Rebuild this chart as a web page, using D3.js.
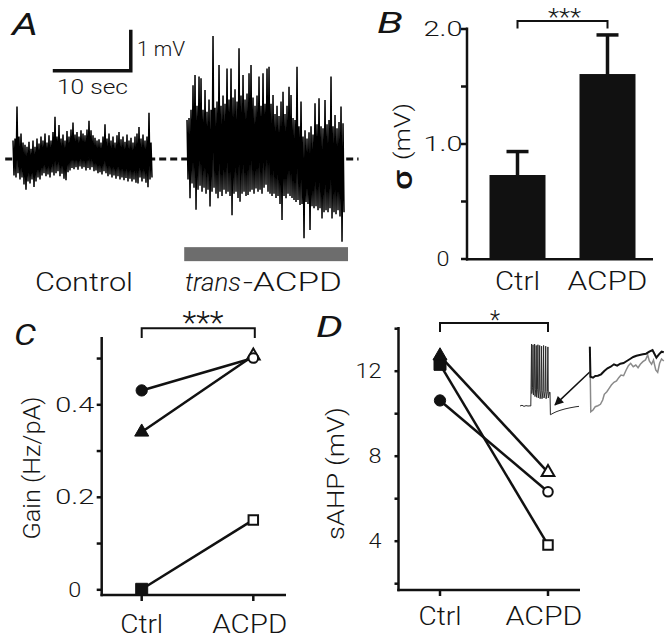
<!DOCTYPE html>
<html><head><meta charset="utf-8">
<script src="https://cdn.jsdelivr.net/npm/d3@7"></script>
<style>
body{margin:0;background:#fff}
text{font-family:Roboto,"Liberation Sans",Arial,sans-serif;font-weight:300;fill:#141414}
</style>
</head><body>
<svg id="chart" width="672" height="640"></svg>
<script>
// ================= DATA =================
const groups = ["Ctrl", "ACPD"];

// Panel A: membrane potential traces, per-sample max / min (mV re. baseline), 0.256 s per sample
const ctrlHi = [.45,.50,1.28,.55,.62,.40,.35,.30,.42,.25,
  .45,.30,.50,.38,.55,.45,.62,.40,.58,.45,
  .66,1.03,.55,.83,.50,.60,.45,.68,.55,.72,
  .89,.60,.66,.55,.70,.62,.58,.72,.93,.70,
  .58,.52,.45,.48,.40,.55,.85,.50,.62,.45,
  .55,.40,.58,.66,.48,.55,.42,.60,.45,.52,
  .40,.55,.62,.78,.50,.60,.45,.55,1.13,.40];
const ctrlLo = [-.40,-.45,-.35,-.50,-.45,-.62,-.75,-.55,-.60,-.50,
  -.68,-.55,-.45,-.50,-.40,-.35,-.42,-.38,-.45,-.33,
  -.40,-.35,-.30,-.42,-.36,-.48,-.52,-.32,-.28,-.22,
  -.25,-.20,-.26,-.18,-.24,-.20,-.28,-.22,-.26,-.20,
  -.30,-.28,-.35,-.32,-.38,-.30,-.35,-.42,-.38,-.45,
  -.40,-.48,-.42,-.50,-.45,-.52,-.46,-.55,-.48,-.55,
  -.50,-.58,-.60,-.45,-.55,-.48,-.58,-.69,-.50,-.45];
const acpdHi = [0.95,1.0,1.2,1.80,2.05,1.3,2.01,1.97,1.2,1.68,
  1.15,1.45,1.2,3.0,1.25,1.4,2.29,1.3,1.55,1.35,
  2.21,1.45,2.21,1.5,1.7,1.4,2.70,1.55,2.05,1.45,
  1.6,2.09,2.29,1.5,1.3,1.55,2.01,1.3,2.09,1.35,
  2.21,2.25,1.35,1.56,1.1,1.3,1.05,1.4,1.64,1.1,
  1.3,1.76,1.56,1.0,0.95,2.25,0.8,1.40,0.55,0.7,
  0.5,0.65,0.8,0.6,1.36,0.85,1.48,0.8,0.75,1.44,
  0.85,0.95,2.01,0.8,1.07,0.75,0.9,1.28,0.87];
const acpdLo = [-0.50,-0.96,-0.6,-0.7,-1.24,-0.75,-0.65,-0.8,-0.7,-0.85,
  -0.75,-1.16,-0.8,-0.7,-0.85,-0.96,-0.8,-0.9,-0.75,-0.85,
  -0.8,-0.9,-1.37,-0.85,-0.8,-0.95,-1.04,-0.85,-0.8,-0.9,
  -0.88,-0.8,-0.75,-0.85,-0.72,-0.8,-0.75,-0.85,-0.7,-0.63,
  -0.8,-0.85,-0.9,-0.85,-0.95,-0.9,-1.1,-1.49,-0.9,-0.96,
  -0.85,-0.9,-0.95,-1.0,-1.05,-1.0,-1.12,-1.1,-1.93,-1.05,
  -1.1,-1.73,-1.15,-1.2,-1.15,-1.25,-1.2,-1.45,-1.3,-1.25,
  -1.3,-1.2,-1.45,-1.3,-1.35,-1.25,-1.4,-2.02,-1.3];

// Panel B: sigma (mV)
const sigmaMean = [0.726, 1.604];
const sigmaSem  = [0.204, 0.34];
const bTickVals = [0, 0.5, 1, 1.5, 2];
const bTickLabels = ["0", "", "1.0", "", "2.0"];

// Panel C: gain (Hz/pA)
const gainSquare   = [0.0, 0.15];
const gainTriangle = [0.34, 0.505];
const gainCircle   = [0.43, 0.50];
const cTickVals = [0, 0.1, 0.2, 0.3, 0.4, 0.5];
const cTickLabels = ["0", "", "0.2", "", "0.4", ""];

// Panel D: sAHP (mV)
const sahpSquare   = [12.3, 3.8];
const sahpTriangle = [12.7, 7.22];
const sahpCircle   = [10.6, 6.3];
const dTickVals = [2, 4, 6, 8, 10, 12, 14];
const dTickLabels = ["", "4", "", "8", "", "12", ""];

// Panel D inset: spike train (ms, mV)
const spikeT = [0,20,40,60,80,100,108,
  110,115,118,125,130,134,140,146,150,157,162,166,174,179,183,192,197,201,211,216,220,231,236,240,252,257,261,274,279,283,296,
  300,304,330,360,400,450,500,560,590];
const spikeV = [-65,-64,-65.5,-64.5,-65,-64.8,-65,
  -42,20,-48,-40,19,-50,-41,20,-52,-42,18,-53,-42,19,-54,-43,18,-55,-44,17,-55,-44,18,-54,-45,17,-55,-45,16,-54,-46,
  -46,-77,-75,-73,-71,-69,-67.5,-66,-65.5];
// expanded AHP (ms, mV): control (black) and ACPD (gray)
const blackT = [15,17,25,32,40,50,60,70,80,90,100,110,120,130,140,150,160,170,180,190,200,210,215,222,230,238,245];
const blackV = [-6.7,-36.7,-37.7,-36,-35.7,-34.3,-31,-28.3,-26.7,-24.3,-25.7,-23.7,-23,-21,-19,-17,-15.7,-15,-14.3,-13.7,-11.7,-10,-13.3,-17.7,-14.3,-11.7,-12.3];
const grayT = [15,18,25,32,40,48,55,60,68,75,82,90,98,105,112,120,128,135,142,150,158,165,172,180,188,195,200,207,213,220,226,232,238,245];
const grayV = [-6.7,-71.7,-70,-66.7,-65.7,-64.3,-60,-54.3,-51.7,-48.3,-45,-42.3,-41,-37.7,-35,-35.7,-30,-25.7,-23.3,-26.7,-25,-27.7,-24.3,-21.7,-20,-15,-21,-24.3,-20,-30,-32.3,-23.3,-19,-21];
const arrowT = [700, 350];
const arrowV = [-18, -63.5];

// ================= DRAWING =================
const svg = d3.select("#chart");
const INK = "#111";

function txt(x, y, s, size, len, opt = {}) {
  const t = svg.append("text").attr("x", x).attr("y", y).attr("font-size", size).text(s);
  if (opt.anchor) t.attr("text-anchor", opt.anchor);
  if (opt.italic) t.attr("font-style", "italic");
  if (opt.weight) t.style("font-weight", opt.weight);
  if (len) t.attr("textLength", len).attr("lengthAdjust", "spacingAndGlyphs");
  return t;
}
function vtxt(cx, cy, s, size, len) {
  return svg.append("text").attr("transform", `translate(${cx},${cy}) rotate(-90)`)
    .attr("text-anchor", "middle").attr("dy", "0.35em").attr("font-size", size)
    .attr("textLength", len).attr("lengthAdjust", "spacingAndGlyphs").text(s);
}
function styleAxis(g, labels, labelX, anchor, tickW) {
  g.select(".domain").remove();
  g.selectAll(".tick line").attr("stroke", INK).attr("stroke-width", tickW);
  g.selectAll(".tick text").attr("x", labelX).attr("text-anchor", anchor)
    .attr("font-size", 21).attr("font-family", null)
    .each(function (d, i) {
      const l = labels[i];
      if (l) d3.select(this).attr("textLength", 13 * l.length).attr("lengthAdjust", "spacingAndGlyphs");
    });
  g.attr("font-family", null).attr("font-size", null);
}

// ---------- Panel A ----------
const xA = d3.scaleLinear().domain([0, 10]).range([13, 91]);
const yA = d3.scaleLinear().domain([0, 1]).range([159, 118]);
const dtA = 0.2564;
const ctrlStart = 0, acpdStart = 22.31;
function tracePts(hi, lo, t0) {
  const p = [];
  hi.forEach((h, i) => { p.push([t0 + i * dtA, h]); p.push([t0 + i * dtA + dtA / 2, lo[i]]); });
  return p;
}
const lineA = d3.line().x(d => xA(d[0])).y(d => yA(d[1]));

svg.append("line").attr("x1", xA(-1)).attr("x2", xA(44.3)).attr("y1", yA(0)).attr("y2", yA(0))
  .attr("stroke", INK).attr("stroke-width", 3).attr("stroke-dasharray", "7,4");
svg.append("path").attr("d", lineA(tracePts(ctrlHi, ctrlLo, ctrlStart)))
  .attr("fill", "none").attr("stroke", "#000").attr("stroke-width", 1.5).attr("stroke-linejoin", "bevel");
svg.append("path").attr("d", lineA(tracePts(acpdHi, acpdLo, acpdStart)))
  .attr("fill", "none").attr("stroke", "#000").attr("stroke-width", 1.5).attr("stroke-linejoin", "bevel");

// scale bar: 10 s x 1 mV
svg.append("path")
  .attr("d", `M${xA(5.1)},${yA(2.15)}H${xA(15.1)}V${yA(3.15)}`)
  .attr("fill", "none").attr("stroke", INK).attr("stroke-width", 3.5);
txt(137, 56, "1 mV", 20, 48);
txt(57, 94, "10 sec", 20, 71);

// drug application bar
svg.append("rect").attr("x", xA(21.95)).attr("width", xA(42.95) - xA(21.95))
  .attr("y", yA(-2.15)).attr("height", 14).attr("fill", "#6d6d6d");
txt(35, 291, "Control", 25, 98);
txt(185, 291, "trans", 25, 56, { italic: true });
txt(243, 291, "-ACPD", 25, 99);
txt(12, 35, "A", 31, 26, { italic: true, weight: 400 });

// ---------- Panel B ----------
const yB = d3.scaleLinear().domain([0, 2]).range([258.5, 28.5]);
const xB = d3.scalePoint().domain(groups).range([517.5, 607.5]);
const barW = 56;
svg.selectAll(".barB").data(groups).enter().append("rect")
  .attr("x", d => xB(d) - barW / 2).attr("width", barW)
  .attr("y", (d, i) => yB(sigmaMean[i])).attr("height", (d, i) => yB(0) - yB(sigmaMean[i]))
  .attr("fill", INK);
groups.forEach((g, i) => {
  const top = yB(sigmaMean[i] + sigmaSem[i]);
  svg.append("line").attr("x1", xB(g)).attr("x2", xB(g)).attr("y1", yB(sigmaMean[i]) + 2).attr("y2", top)
    .attr("stroke", INK).attr("stroke-width", 3.5);
  svg.append("line").attr("x1", xB(g) - 11).attr("x2", xB(g) + 11).attr("y1", top).attr("y2", top)
    .attr("stroke", INK).attr("stroke-width", 3.5);
});
const gBa = svg.append("g").attr("transform", "translate(467,0)")
  .call(d3.axisLeft(yB).tickValues(bTickVals).tickFormat((d, i) => bTickLabels[i]).tickSize(6).tickSizeOuter(0));
styleAxis(gBa, bTickLabels, -24, "middle", 2.5);
svg.append("line").attr("x1", 467).attr("x2", 467).attr("y1", 27.5).attr("y2", 260.5).attr("stroke", INK).attr("stroke-width", 2.5);
svg.append("line").attr("x1", 466).attr("x2", 653).attr("y1", 259.3).attr("y2", 259.3).attr("stroke", INK).attr("stroke-width", 2.5);
svg.append("path").attr("d", `M${xB("Ctrl")},${yB(2)}V${yB(2) - 7.5}H${xB("ACPD")}V${yB(2)}`)
  .attr("fill", "none").attr("stroke", INK).attr("stroke-width", 2);
txt((xB("Ctrl") + xB("ACPD")) / 2 + 2, 24.5, "***", 24, 33, { anchor: "middle" });
groups.forEach((g, i) => txt(xB(g), 290, g, 25, i ? 80 : 45, { anchor: "middle" }));
vtxt(402.5, 180, "σ", 27, 20).style("font-weight", 500);
vtxt(402.5, 131.5, "(mV)", 22, 57);
txt(377, 33, "B", 30, 26, { italic: true, weight: 400 });

// ---------- markers helper ----------
const shapes = [
  { type: d3.symbolSquare, filled: 144, open: 90 },
  { type: d3.symbolTriangle, filled: 85, open: 70 },
  { type: d3.symbolCircle, filled: 100, open: 72 }
];
function drawPairs(series, xs, ys) {
  series.forEach(vals => {
    svg.append("line").attr("x1", xs(groups[0])).attr("y1", ys(vals[0]))
      .attr("x2", xs(groups[1])).attr("y2", ys(vals[1]))
      .attr("stroke", INK).attr("stroke-width", 2.5);
  });
  series.forEach((vals, k) => {
    const sh = shapes[k];
    vals.forEach((v, i) => {
      const open = i === 1;
      svg.append("path")
        .attr("d", d3.symbol().type(sh.type).size(open ? sh.open : sh.filled)())
        .attr("transform", `translate(${xs(groups[i])},${ys(v)})`)
        .attr("fill", open ? "#fff" : INK).attr("stroke", INK).attr("stroke-width", open ? 2 : 1);
    });
  });
}

// ---------- Panel C ----------
const yC = d3.scaleLinear().domain([0, 0.5]).range([589.3, 358.05]);
const xC = d3.scalePoint().domain(groups).range([141.7, 253.3]);
const gCa = svg.append("g").attr("transform", "translate(101.7,0)")
  .call(d3.axisLeft(yC).tickValues(cTickVals).tickFormat((d, i) => cTickLabels[i]).tickSize(5).tickSizeOuter(0));
styleAxis(gCa, cTickLabels, -27, "middle", 2.5);
svg.append("line").attr("x1", 101.7).attr("x2", 101.7).attr("y1", 337).attr("y2", 596.2).attr("stroke", INK).attr("stroke-width", 2.5);
svg.append("line").attr("x1", 100.5).attr("x2", 286).attr("y1", 595).attr("y2", 595).attr("stroke", INK).attr("stroke-width", 2.5);
groups.forEach(g => svg.append("line").attr("x1", xC(g)).attr("x2", xC(g)).attr("y1", 595).attr("y2", 601).attr("stroke", INK).attr("stroke-width", 2.5));
drawPairs([gainSquare, gainTriangle, gainCircle], xC, yC);
svg.append("path").attr("d", `M${xC("Ctrl")},338V328.3H${xC("ACPD") + 1.5}V338`)
  .attr("fill", "none").attr("stroke", INK).attr("stroke-width", 2);
txt(203, 333, "***", 31, 41, { anchor: "middle" });
groups.forEach((g, i) => txt(xC(g) - (i ? 3.5 : 0), 633, g, 25, i ? 75 : 43, { anchor: "middle" }));
vtxt(32, 468, "Gain (Hz/pA)", 23, 143);
txt(14, 345, "C", 30, 22, { italic: true, weight: 400 });

// ---------- Panel D ----------
const yD = d3.scaleLinear().domain([1.68, 14]).range([590, 328.2]);
const xD = d3.scalePoint().domain(groups).range([440, 548]);
const gDa = svg.append("g").attr("transform", "translate(398.5,0)")
  .call(d3.axisLeft(yD).tickValues(dTickVals).tickFormat((d, i) => dTickLabels[i]).tickSize(4).tickSizeOuter(0));
styleAxis(gDa, dTickLabels, -17, "end", 2.5);
svg.append("line").attr("x1", 398.5).attr("x2", 398.5).attr("y1", 327).attr("y2", 591.2).attr("stroke", INK).attr("stroke-width", 2.5);
svg.append("line").attr("x1", 397.3).attr("x2", 580).attr("y1", 590).attr("y2", 590).attr("stroke", INK).attr("stroke-width", 2.5);
groups.forEach(g => svg.append("line").attr("x1", xD(g)).attr("x2", xD(g)).attr("y1", 590).attr("y2", 596).attr("stroke", INK).attr("stroke-width", 2.5));
drawPairs([sahpSquare, sahpTriangle, sahpCircle], xD, yD);
svg.append("path").attr("d", `M${xD("Ctrl")},332V323H${xD("ACPD")}V332`)
  .attr("fill", "none").attr("stroke", INK).attr("stroke-width", 2);
txt(495, 329, "*", 26, 10, { anchor: "middle" });
groups.forEach((g, i) => txt(xD(g) - (i ? 4 : 0), 625, g, 25, i ? 77 : 43, { anchor: "middle" }));
vtxt(336, 473.5, "sAHP (mV)", 23, 133);
txt(316, 337, "D", 30, 27, { italic: true, weight: 400 });

// inset: spike train
const xI = d3.scaleLinear().domain([0, 600]).range([520, 580]);
const yI = d3.scaleLinear().domain([-65, 20]).range([406, 344]);
svg.append("path").attr("d", d3.line().x((d, i) => xI(spikeT[i])).y(d => yI(d))(spikeV))
  .attr("fill", "none").attr("stroke", "#2a2a2a").attr("stroke-width", 1);
// arrow
const defs = svg.append("defs");
defs.append("marker").attr("id", "ah").attr("viewBox", "0 0 10 10").attr("refX", 9).attr("refY", 5)
  .attr("markerWidth", 10).attr("markerHeight", 9).attr("markerUnits", "userSpaceOnUse").attr("orient", "auto")
  .append("path").attr("d", "M0,0L10,5L0,10z").attr("fill", INK);
svg.append("line").attr("x1", xI(arrowT[0])).attr("y1", yI(arrowV[0])).attr("x2", xI(arrowT[1])).attr("y2", yI(arrowV[1]))
  .attr("stroke", INK).attr("stroke-width", 1.5).attr("marker-end", "url(#ah)");
// expanded AHP
const xE = d3.scaleLinear().domain([0, 255]).range([585, 667]);
const yE = d3.scaleLinear().domain([-80, 0]).range([420, 340]);
svg.append("path").attr("d", d3.line().x((d, i) => xE(grayT[i])).y(d => yE(d))(grayV))
  .attr("fill", "none").attr("stroke", "#8a8a8a").attr("stroke-width", 1.5);
svg.append("path").attr("d", d3.line().x((d, i) => xE(blackT[i])).y(d => yE(d))(blackV))
  .attr("fill", "none").attr("stroke", INK).attr("stroke-width", 2);
</script>
</body></html>
